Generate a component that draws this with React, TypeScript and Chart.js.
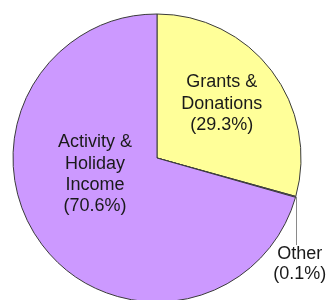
import React, { useEffect, useRef } from "react";
import { Chart, registerables } from "chart.js";

Chart.register(...registerables);

const categories = ["Grants & Donations", "Other", "Activity & Holiday Income"];
const shares = [29.3, 0.1, 70.6];
const labelLines = [
  ["Grants &", "Donations", "(29.3%)"],
  ["Other", "(0.1%)"],
  ["Activity &", "Holiday", "Income", "(70.6%)"],
];

const colors = ["#FFFF99", "#CC99FF", "#CC99FF"];

const FONT = '18px "Liberation Sans", Arial, sans-serif';

const labelPlugin = {
  id: "sliceLabels",
  afterDatasetsDraw(chart: any) {
    const meta = chart.getDatasetMeta(0);
    const ctx = chart.ctx as CanvasRenderingContext2D;
    ctx.save();
    ctx.font = FONT;
    ctx.fillStyle = "#1a1a1a";
    ctx.textAlign = "center";
    ctx.textBaseline = "middle";
    const lh = 21.3;
    meta.data.forEach((arc: any, i: number) => {
      const { x, y, startAngle, endAngle, outerRadius } = arc.getProps(
        ["x", "y", "startAngle", "endAngle", "outerRadius"],
        true
      );
      const mid = (startAngle + endAngle) / 2;
      const lines = labelLines[i];
      if (i === 1) {
        // leader line for tiny slice
        const px = x + Math.cos(mid) * outerRadius;
        const py = y + Math.sin(mid) * outerRadius;
        const endY = y + outerRadius * 0.605;
        ctx.strokeStyle = "#8a8a8a";
        ctx.lineWidth = 1;
        ctx.beginPath();
        ctx.moveTo(Math.round(px) + 0.5, py);
        ctx.lineTo(Math.round(px) + 0.5, endY);
        ctx.stroke();
        const cx = px + 4;
        const cy0 = endY + 9;
        lines.forEach((t, j) => ctx.fillText(t, cx, cy0 + j * 19.5));
        return;
      }
      let cx: number, cy: number;
      if (i === 0) {
        cx = x + Math.cos(mid) * outerRadius * 0.6 - 4;
        cy = y + Math.sin(mid) * outerRadius * 0.6 - 2;
      } else {
        cx = x - outerRadius * 0.43;
        cy = y + outerRadius * 0.113;
      }
      const top = cy - ((lines.length - 1) * lh) / 2;
      lines.forEach((t, j) => ctx.fillText(t, cx, top + j * lh));
    });
    ctx.restore();
  },
};

export default function App() {
  const ref = useRef<HTMLCanvasElement>(null);
  useEffect(() => {
    document.body.style.margin = "0";
    const c = new Chart(ref.current!, {
      type: "pie",
      data: {
        labels: categories,
        datasets: [
          {
            data: shares,
            backgroundColor: colors,
            borderColor: "#3a3a3a",
            borderWidth: 1,
            radius: 144,
            clip: false,
          } as any,
        ],
      },
      options: {
        responsive: false,
        animation: false,
        layout: { padding: { left: 0, right: 12, top: 16, bottom: 0 } },
        plugins: { legend: { display: false }, tooltip: { enabled: false } },
      },
      plugins: [labelPlugin],
    });
    return () => c.destroy();
  }, []);
  return (
    <div style={{ width: 326, height: 300, background: "#fff" }}>
      <canvas ref={ref} width={326} height={300} />
    </div>
  );
}
